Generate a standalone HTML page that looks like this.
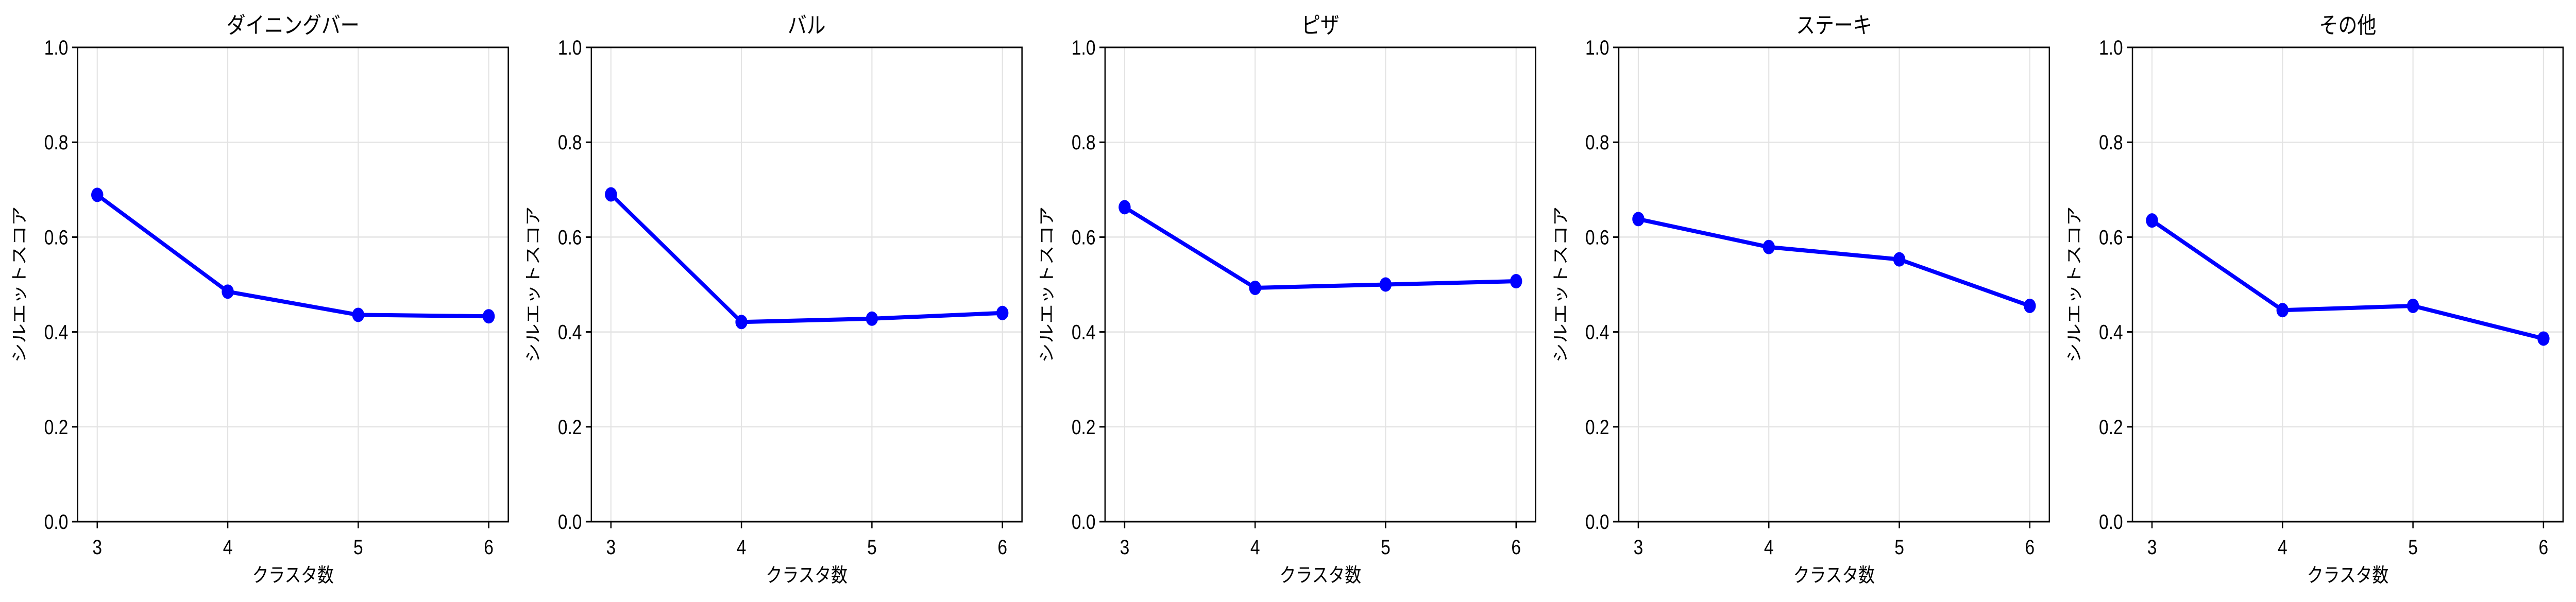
<!DOCTYPE html>
<html><head><meta charset="utf-8">
<style>
html,body{margin:0;padding:0;background:#fff;overflow:hidden;width:100vw;height:100vh;}
svg{display:block;width:100vw;height:100vh;}
text{font-family:"Liberation Sans","Noto Sans CJK JP",sans-serif;fill:#000;}
</style></head>
<body>
<svg id="chart" viewBox="0 0 5970 1169" preserveAspectRatio="none" xmlns="http://www.w3.org/2000/svg"></svg>
<script>
const titles = ["ダイニングバー", "バル", "ピザ", "ステーキ", "その他"];
const clusters = [3, 4, 5, 6];
const scoresDining = [0.689, 0.485, 0.436, 0.433];
const scoresBar = [0.69, 0.421, 0.428, 0.44];
const scoresPizza = [0.663, 0.493, 0.50, 0.507];
const scoresSteak = [0.638, 0.579, 0.553, 0.455];
const scoresOther = [0.635, 0.446, 0.455, 0.386];
const yTicks = ["0.0", "0.2", "0.4", "0.6", "0.8", "1.0"];
const xTicks = ["3", "4", "5", "6"];
const series = [scoresDining, scoresBar, scoresPizza, scoresSteak, scoresOther];

const NS = "http://www.w3.org/2000/svg";
const svgEl = document.getElementById('chart');
function mk(tag, attrs, parent){
  const e = document.createElementNS(NS, tag);
  for (const k in attrs) e.setAttribute(k, attrs[k]);
  (parent||svgEl).appendChild(e);
  return e;
}
const plotTop = 92, plotBottom = 1013, panelWidth = 998, panelStep = 1190.5, left0 = 180;
series.forEach((vals, i) => {
  const L = left0 + i*panelStep, R = L + panelWidth;
  const g = mk('g', {});
  
  
  const xs = v => L + (v - 2.85) / 3.3 * panelWidth;
  const ys = v => plotBottom - v * (plotBottom - plotTop);
  yTicks.forEach(t => {
    const y = ys(parseFloat(t));
    const gl = mk('line', {x1:L, x2:R, y1:y, y2:y, stroke:'#e3e3e3', 'stroke-width':2.5}, g);
    
    
  });
  xTicks.forEach(t => {
    const x = xs(parseFloat(t));
    const gl = mk('line', {x1:x, x2:x, y1:plotTop, y2:plotBottom, stroke:'#e3e3e3', 'stroke-width':2.5}, g);
    
    
  });
  const fr = mk('rect', {x:L, y:plotTop, width:panelWidth, height:plotBottom-plotTop, fill:'none', stroke:'#000', 'stroke-width':3}, g);
  
  
  yTicks.forEach(t => {
    const y = ys(parseFloat(t));
    mk('line', {x1:L-13, x2:L, y1:y, y2:y, stroke:'#000', 'stroke-width':3}, g);
    const tx = mk('text', {x:L-22, y:y+14, 'text-anchor':'end', 'font-size':40}, g);
    tx.textContent = t;
    
    
  });
  xTicks.forEach(t => {
    const x = xs(parseFloat(t));
    mk('line', {x1:x, x2:x, y1:plotBottom, y2:plotBottom+13, stroke:'#000', 'stroke-width':3}, g);
    const tx = mk('text', {x:x, y:1076, 'text-anchor':'middle', 'font-size':40}, g);
    tx.textContent = t;
    
    
  });
  const pts = vals.map((v, j) => xs(clusters[j]) + ',' + ys(v)).join(' ');
  const pl = mk('polyline', {points:pts, fill:'none', stroke:'#0000ff', 'stroke-width':8, 'stroke-linejoin':'round'}, g);
  
  
  vals.forEach((v, j) => {
    const c = mk('circle', {cx:xs(clusters[j]), cy:ys(v), r:14, fill:'#0000ff'}, g);
    
    
  });
  const ti = mk('text', {x:(L+R)/2, y:64, 'text-anchor':'middle', 'font-size':44}, g);
  ti.textContent = titles[i];
  
  
  const xl = mk('text', {x:(L+R)/2, y:1130, 'text-anchor':'middle', 'font-size':38}, g);
  xl.textContent = 'クラスタ数';
  
  
  const cy = (plotTop+plotBottom)/2, cx = L - 122;
  const yl = mk('text', {x:cx, y:cy, 'text-anchor':'middle', 'font-size':38, transform:'rotate(-90 '+cx+' '+cy+')'}, g);
  yl.textContent = 'シルエットスコア';
  
  
});
</script>
</body></html>
